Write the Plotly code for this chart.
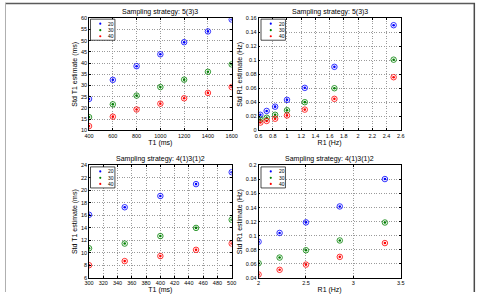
import plotly.graph_objects as go

# ---------------- data ----------------
series_names = ["20", "30", "40"]
colors = ["#0000ff", "#008000", "#ff0000"]

# Top-left: Sampling strategy 5(3)3, T1 domain
t1_top = [400, 600, 800, 1000, 1200, 1400, 1600]
std_t1_top_20 = [24.0, 32.5, 38.6, 43.9, 49.3, 54.1, 59.4]
std_t1_top_30 = [15.9, 21.6, 25.5, 29.3, 32.6, 36.1, 39.4]
std_t1_top_40 = [11.9, 16.1, 19.3, 21.9, 24.3, 26.7, 29.3]

# Top-right: Sampling strategy 5(3)3, R1 domain
r1_top = [0.625, 0.714, 0.833, 1.0, 1.25, 1.667, 2.5]
std_r1_top_20 = [0.0222, 0.0277, 0.0338, 0.0435, 0.0606, 0.0906, 0.150]
std_r1_top_30 = [0.0153, 0.0180, 0.0222, 0.0287, 0.0402, 0.0601, 0.1008]
std_r1_top_40 = [0.0111, 0.0134, 0.0166, 0.0213, 0.0296, 0.0449, 0.0758]

# Bottom-left: Sampling strategy 4(1)3(1)2, T1 domain
t1_bot = [300, 350, 400, 450, 500]
std_t1_bot_20 = [16.1, 17.3, 19.1, 21.0, 22.9]
std_t1_bot_30 = [10.75, 11.5, 12.7, 14.0, 15.3]
std_t1_bot_40 = [8.04, 8.7, 9.5, 10.5, 11.5]

# Bottom-right: Sampling strategy 4(1)3(1)2, R1 domain
r1_bot = [2.0, 2.222, 2.5, 2.857, 3.333]
std_r1_bot_20 = [0.0915, 0.104, 0.119, 0.1416, 0.1805]
std_r1_bot_30 = [0.061, 0.069, 0.0794, 0.0933, 0.1188]
std_r1_bot_40 = [0.045, 0.0516, 0.059, 0.070, 0.0896]

titles = ["Sampling strategy: 5(3)3", "Sampling strategy: 4(1)3(1)2"]

W, H = 481, 295
FONT = "Liberation Sans, Arial, sans-serif"


def px_x(v):
    return v / W


def px_y(v):
    return 1 - v / H


panels = [
    dict(x=t1_top, ys=[std_t1_top_20, std_t1_top_30, std_t1_top_40], xa="x", ya="y", leg=(87.5, 16.5)),
    dict(x=r1_top, ys=[std_r1_top_20, std_r1_top_30, std_r1_top_40], xa="x2", ya="y2", leg=(262, 16.5)),
    dict(x=t1_bot, ys=[std_t1_bot_20, std_t1_bot_30, std_t1_bot_40], xa="x3", ya="y3", leg=(87.5, 167.3)),
    dict(x=r1_bot, ys=[std_r1_bot_20, std_r1_bot_30, std_r1_bot_40], xa="x4", ya="y4", leg=(262, 167.3)),
]

fig = go.Figure()
for p in panels:
    for name, ys, c in zip(series_names, p["ys"], colors):
        # open circles
        fig.add_trace(go.Scatter(x=p["x"], y=ys, mode="markers", xaxis=p["xa"], yaxis=p["ya"],
                                 marker=dict(symbol="circle-open", size=5.5, color=c, line=dict(width=0.8)),
                                 showlegend=False, hoverinfo="skip"))
        # dots
        fig.add_trace(go.Scatter(x=p["x"], y=ys, mode="markers", xaxis=p["xa"], yaxis=p["ya"],
                                 marker=dict(symbol="circle", size=2.6, color=c),
                                 name=name, showlegend=False))

dom_left = [px_x(86), px_x(232)]
dom_right = [px_x(259.5), px_x(405)]
dom_top = [px_y(130), px_y(15.5)]
dom_bot = [px_y(280.7), px_y(165.7)]

axis_common = dict(showline=True, linecolor="black", linewidth=0.8, mirror="ticks", ticks="inside",
                   ticklen=2, tickwidth=0.6, tickcolor="black", showgrid=True, gridcolor="#9a9a9a",
                   griddash="1px,1.5px", gridwidth=0.6, zeroline=False,
                   tickfont=dict(size=5.5, family=FONT, color="black"),
                   title_font=dict(size=7, family=FONT, color="black"))


def xaxis(domain, rng, dtick, title, anchor):
    d = dict(axis_common)
    d.update(domain=domain, range=rng, dtick=dtick, tick0=rng[0], title=dict(text=title, standoff=1),
             anchor=anchor, ticklabelstandoff=0)
    return d


def yaxis(domain, rng, dtick, title, anchor):
    d = dict(axis_common)
    d.update(domain=domain, range=rng, dtick=dtick, tick0=rng[0], title=dict(text=title, standoff=2),
             anchor=anchor)
    return d


fig.update_layout(
    width=W, height=H, margin=dict(l=0, r=0, t=0, b=0),
    paper_bgcolor="white", plot_bgcolor="white", showlegend=False,
    xaxis=xaxis(dom_left, [400, 1600], 200, "T1 (ms)", "y"),
    yaxis=yaxis(dom_top, [10, 60], 5, "Std T1 estimate (ms)", "x"),
    xaxis2=xaxis(dom_right, [0.6, 2.6], 0.2, "R1 (Hz)", "y2"),
    yaxis2=yaxis(dom_top, [0, 0.16], 0.02, "Std R1 estimate (Hz)", "x2"),
    xaxis3=xaxis(dom_left, [300, 500], 20, "T1 (ms)", "y3"),
    yaxis3=yaxis(dom_bot, [6, 24], 2, "Std T1 estimate (ms)", "x3"),
    xaxis4=xaxis(dom_right, [2, 3.5], 0.5, "R1 (Hz)", "y4"),
    yaxis4=yaxis(dom_bot, [0.04, 0.2], 0.02, "Std R1 estimate (Hz)", "x4"),
)

# compact legend boxes (MATLAB style), one per panel
LEG_W, LEG_H = 25, 21.5
entry_offsets = [4.6, 11.2, 17.4]
for p in panels:
    lx, ly = p["leg"]
    fig.add_shape(type="rect", xref="paper", yref="paper",
                  x0=px_x(lx), x1=px_x(lx + LEG_W), y0=px_y(ly + LEG_H), y1=px_y(ly),
                  line=dict(color="black", width=0.7), fillcolor="white", layer="above")
    for name, c, off in zip(series_names, colors, entry_offsets):
        cx, cy = lx + 10, ly + off
        fig.add_shape(type="circle", xref="paper", yref="paper",
                      x0=px_x(cx - 1.1), x1=px_x(cx + 1.1), y0=px_y(cy + 1.1), y1=px_y(cy - 1.1),
                      line=dict(width=0), fillcolor=c, layer="above")
        fig.add_annotation(text=name, x=px_x(lx + 16), y=px_y(cy), xref="paper", yref="paper",
                           showarrow=False, xanchor="left", yanchor="middle",
                           font=dict(size=5, family=FONT, color="black"))

# panel titles
for dom, t, ty in [(dom_left, titles[0], 9.3), (dom_right, titles[0], 9.3),
                   (dom_left, titles[1], 159.3), (dom_right, titles[1], 159.3)]:
    fig.add_annotation(text=t, x=(dom[0] + dom[1]) / 2, y=px_y(ty), xref="paper", yref="paper",
                       showarrow=False, xanchor="center", yanchor="middle",
                       font=dict(size=7, family=FONT, color="black"))

# outer frame edges of the figure image
fig.add_shape(type="line", xref="paper", yref="paper", x0=0, x1=1, y0=px_y(0.5), y1=px_y(0.5),
              line=dict(color="#5a5a5a", width=1.5))
fig.add_shape(type="line", xref="paper", yref="paper", x0=px_x(0.5), x1=px_x(0.5), y0=0, y1=1,
              line=dict(color="#b0b0b0", width=1))
fig.add_shape(type="line", xref="paper", yref="paper", x0=px_x(480.3), x1=px_x(480.3), y0=0, y1=1,
              line=dict(color="#4a4a4a", width=1.5))

fig.write_html("out.html")
